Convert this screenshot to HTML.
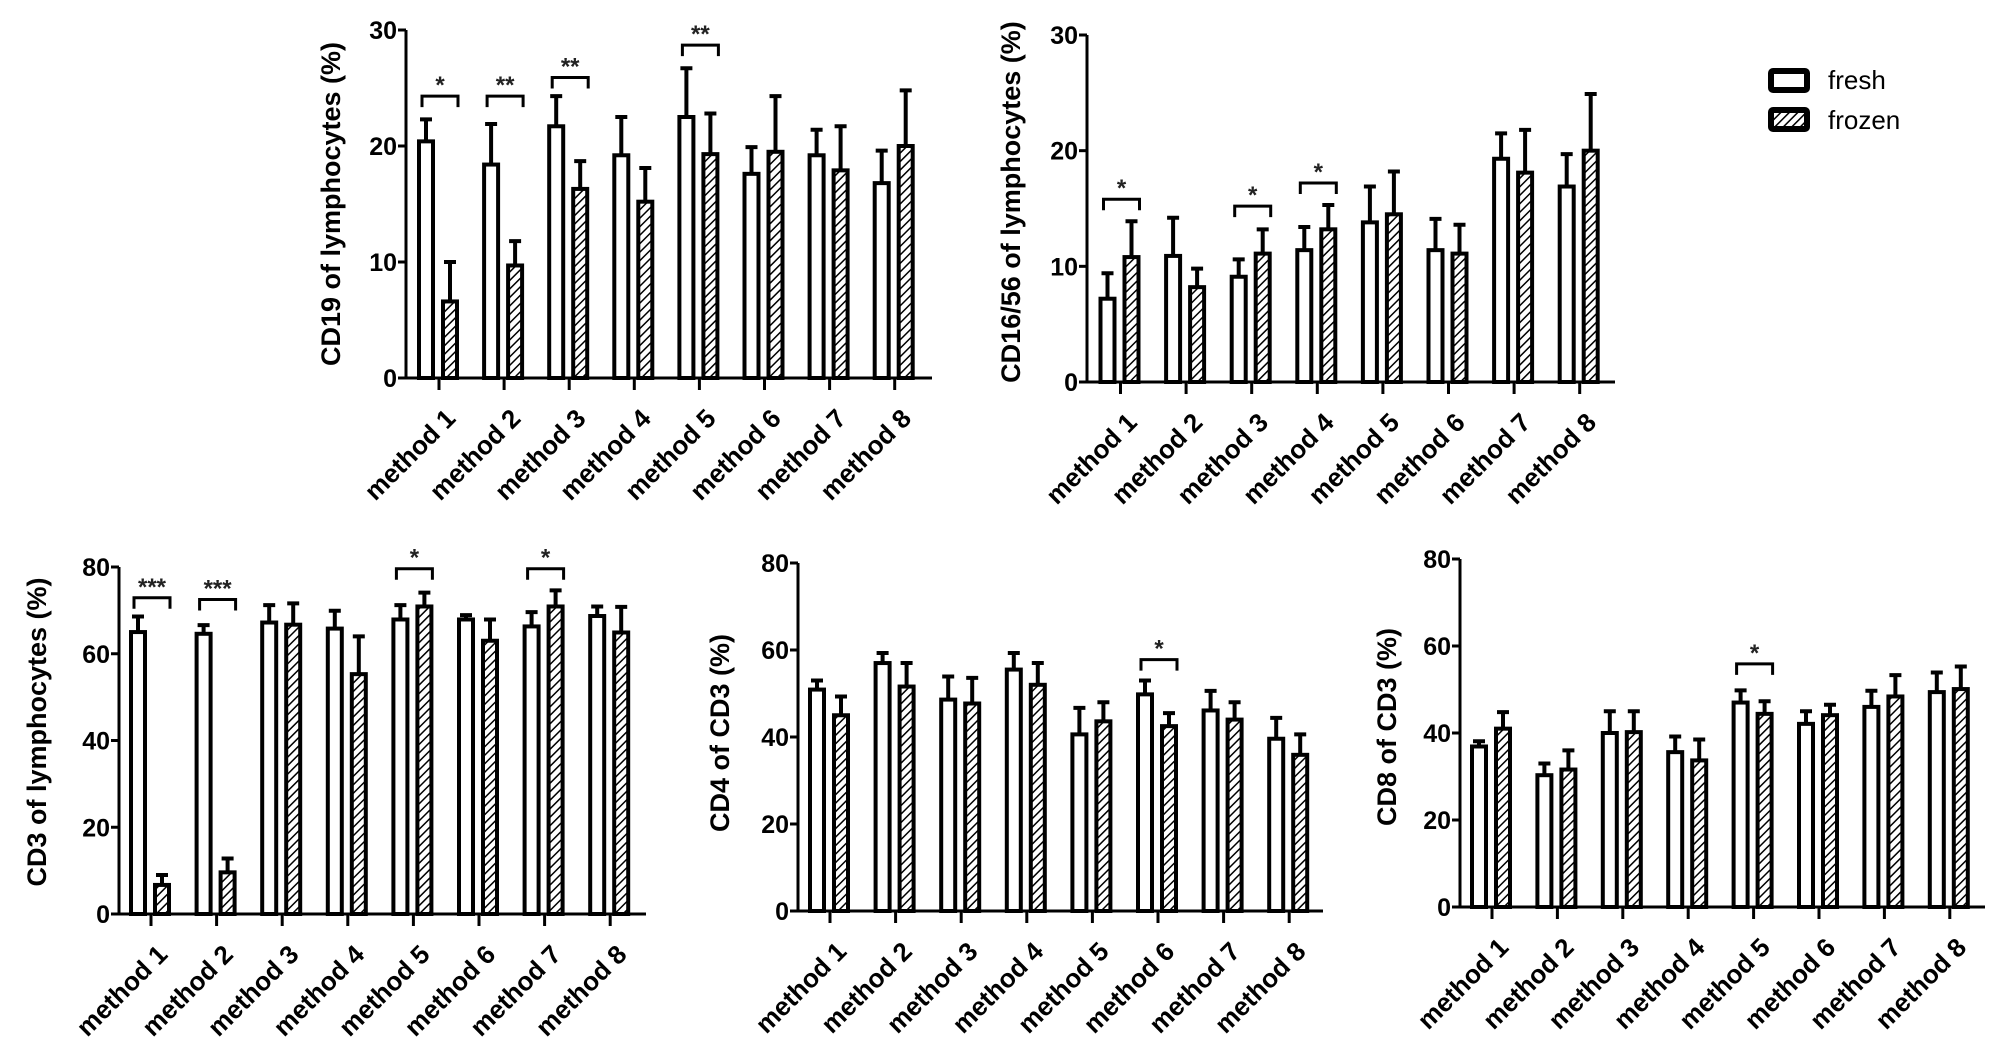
<!DOCTYPE html>
<html><head><meta charset="utf-8"><style>
html,body{margin:0;padding:0;background:#fff;}
svg{display:block;font-family:"Liberation Sans",Arial,sans-serif;}
</style></head><body>
<svg id="fig" width="2008" height="1050" viewBox="0 0 2008 1050">
<defs>
<pattern id="hatch" patternUnits="userSpaceOnUse" width="6" height="6" patternTransform="rotate(45)">
<rect width="6" height="6" fill="#fff"/><line x1="0" y1="0" x2="0" y2="6" stroke="#000" stroke-width="3"/>
</pattern>
</defs>
<g id="legend">
<g>
<rect x="1771" y="71" width="36" height="19" fill="#fff" stroke="#000" stroke-width="6" rx="2"/>
<text x="1828" y="89" font-size="26" fill="#000">fresh</text>
</g>
<g>
<rect x="1771" y="110" width="36" height="19" fill="url(#hatch)" stroke="#000" stroke-width="6" rx="2"/>
<text x="1828" y="129" font-size="26" fill="#000">frozen</text>
</g>
</g>
</svg>
<script>
var categories = ["method 1","method 2","method 3","method 4","method 5","method 6","method 7","method 8"];

var cd19Fresh = [20.4,18.4,21.7,19.2,22.5,17.6,19.2,16.8];
var cd19FreshErr = [22.3,21.9,24.3,22.5,26.7,19.9,21.4,19.6];
var cd19Frozen = [6.6,9.7,16.3,15.2,19.3,19.5,17.9,20.0];
var cd19FrozenErr = [10.0,11.8,18.7,18.1,22.8,24.3,21.7,24.8];
var cd19Sig = [[0,24.3,"*"],[1,24.3,"**"],[2,25.9,"**"],[4,28.7,"**"]];
var cd19Ticks = [0,10,20,30];

var cd1656Fresh = [7.2,10.9,9.1,11.4,13.8,11.4,19.3,16.9];
var cd1656FreshErr = [9.4,14.2,10.6,13.4,16.9,14.1,21.5,19.7];
var cd1656Frozen = [10.8,8.2,11.1,13.2,14.5,11.1,18.1,20.0];
var cd1656FrozenErr = [13.9,9.8,13.2,15.3,18.2,13.6,21.8,24.9];
var cd1656Sig = [[0,15.8,"*"],[2,15.2,"*"],[3,17.2,"*"]];
var cd1656Ticks = [0,10,20,30];

var cd3Fresh = [65.0,64.6,67.2,65.8,67.9,67.9,66.3,68.7];
var cd3FreshErr = [68.6,66.6,71.2,69.9,71.2,68.9,69.6,70.9];
var cd3Frozen = [6.7,9.6,66.7,55.3,70.9,63.0,70.9,64.9];
var cd3FrozenErr = [9.0,12.8,71.6,64.0,74.1,67.9,74.6,70.8];
var cd3Sig = [[0,72.9,"***"],[1,72.5,"***"],[4,79.6,"*"],[6,79.6,"*"]];
var cd3Ticks = [0,20,40,60,80];

var cd4Fresh = [50.9,57.0,48.6,55.5,40.6,49.8,46.1,39.6];
var cd4FreshErr = [53.0,59.3,53.9,59.3,46.7,53.0,50.6,44.4];
var cd4Frozen = [45.0,51.6,47.7,52.0,43.6,42.5,44.0,35.9];
var cd4FrozenErr = [49.3,57.0,53.6,57.0,48.0,45.5,48.0,40.6];
var cd4Sig = [[5,57.8,"*"]];
var cd4Ticks = [0,20,40,60,80];

var cd8Fresh = [36.9,30.3,40.0,35.6,47.0,42.1,46.0,49.4];
var cd8FreshErr = [38.1,33.0,45.0,39.2,49.8,45.0,49.7,53.9];
var cd8Frozen = [41.0,31.6,40.2,33.7,44.4,44.1,48.4,50.1];
var cd8FrozenErr = [44.8,36.0,45.0,38.5,47.3,46.5,53.3,55.3];
var cd8Sig = [[4,55.9,"*"]];
var cd8Ticks = [0,20,40,60,80];

var NS = "http://www.w3.org/2000/svg";
var svg = document.getElementById("fig");
function mk(tag, attrs, parent){
  var e = document.createElementNS(NS, tag);
  for (var k in attrs) e.setAttribute(k, attrs[k]);
  (parent || svg).appendChild(e);
  return e;
}

function drawChart(id, title, layout, fresh, freshErr, frozen, frozenErr, sig, ticks){
  var g = mk("g", {});
  
  
  var ymax = ticks[ticks.length-1];
  function y(v){ return layout.y0 - (v / ymax) * (layout.y0 - layout.yTop); }
  function x(i){ return layout.x1 + i * layout.sp; }

  for (var i = 0; i < categories.length; i++){
    var c = x(i);
    var b1 = mk("rect", {x: c-20, y: y(fresh[i]), width: 14, height: layout.y0 - y(fresh[i]), fill: "#fff", stroke: "#000", "stroke-width": 4}, g);
    
    
    var e1 = mk("path", {d: "M"+(c-13)+","+y(fresh[i])+"V"+y(freshErr[i])+"M"+(c-19)+","+y(freshErr[i])+"H"+(c-7), stroke: "#000", "stroke-width": 4, fill: "none"}, g);
    
    
    var b2 = mk("rect", {x: c+4, y: y(frozen[i]), width: 14, height: layout.y0 - y(frozen[i]), fill: "url(#hatch)", stroke: "#000", "stroke-width": 4}, g);
    
    
    var e2 = mk("path", {d: "M"+(c+11)+","+y(frozen[i])+"V"+y(frozenErr[i])+"M"+(c+5)+","+y(frozenErr[i])+"H"+(c+17), stroke: "#000", "stroke-width": 4, fill: "none"}, g);
    
    
    mk("line", {x1: c, y1: layout.y0, x2: c, y2: layout.y0 + 12, stroke: "#000", "stroke-width": 3}, g);
    var lx = c + 18, ly = layout.y0 + 42;
    var lt = mk("text", {x: lx, y: ly, "font-size": 26, "font-weight": "bold", "text-anchor": "end", transform: "rotate(-45 "+lx+" "+ly+")"}, g);
    lt.textContent = categories[i];
    
    
  }
  var ax = mk("path", {d: "M"+layout.ax+","+layout.yTop+"V"+layout.y0+"H"+layout.xEnd, stroke: "#000", "stroke-width": 3, fill: "none"}, g);
  
  
  for (var t = 0; t < ticks.length; t++){
    var ty = y(ticks[t]);
    mk("line", {x1: layout.ax - 8, y1: ty, x2: layout.ax, y2: ty, stroke: "#000", "stroke-width": 3}, g);
    var tl = mk("text", {x: layout.ax - 9, y: ty + 9, "font-size": 25, "font-weight": "bold", "text-anchor": "end"}, g);
    tl.textContent = ticks[t];
    
    
  }
  var tt = mk("text", {x: layout.tx, y: layout.ty, "font-size": 27, "font-weight": "bold", "text-anchor": "middle", transform: "rotate(-90 "+layout.tx+" "+layout.ty+")"}, g);
  tt.textContent = title;
  
  
  for (var s = 0; s < sig.length; s++){
    var c2 = x(sig[s][0]), by = y(sig[s][1]);
    var br = mk("path", {d: "M"+(c2-17)+","+(by+11)+"V"+by+"H"+(c2+19)+"V"+(by+11), stroke: "#000", "stroke-width": 3, fill: "none"}, g);
    
    
    var st = mk("text", {x: c2 + 1, y: by - 3, "font-size": 24, "font-weight": "bold", fill: "#222", "text-anchor": "middle"}, g);
    st.textContent = sig[s][2];
    
    
  }
}

drawChart("cd19", "CD19 of lymphocytes  (%)", {ax:406, y0:378, yTop:30, xEnd:932, x1:439, sp:65.1, tx:340, ty:204}, cd19Fresh, cd19FreshErr, cd19Frozen, cd19FrozenErr, cd19Sig, cd19Ticks);
drawChart("cd1656", "CD16/56 of lymphocytes  (%)", {ax:1087, y0:382, yTop:35, xEnd:1615, x1:1120.5, sp:65.6, tx:1020, ty:202}, cd1656Fresh, cd1656FreshErr, cd1656Frozen, cd1656FrozenErr, cd1656Sig, cd1656Ticks);
drawChart("cd3", "CD3 of lymphocytes   (%)", {ax:119, y0:914, yTop:567, xEnd:646, x1:151, sp:65.6, tx:46, ty:732}, cd3Fresh, cd3FreshErr, cd3Frozen, cd3FrozenErr, cd3Sig, cd3Ticks);
drawChart("cd4", "CD4 of CD3  (%)", {ax:798, y0:911, yTop:563, xEnd:1323, x1:830, sp:65.6, tx:729, ty:733}, cd4Fresh, cd4FreshErr, cd4Frozen, cd4FrozenErr, cd4Sig, cd4Ticks);
drawChart("cd8", "CD8 of CD3  (%)", {ax:1460, y0:907, yTop:559, xEnd:1985, x1:1492, sp:65.4, tx:1396, ty:727}, cd8Fresh, cd8FreshErr, cd8Frozen, cd8FrozenErr, cd8Sig, cd8Ticks);
</script>
</body></html>
